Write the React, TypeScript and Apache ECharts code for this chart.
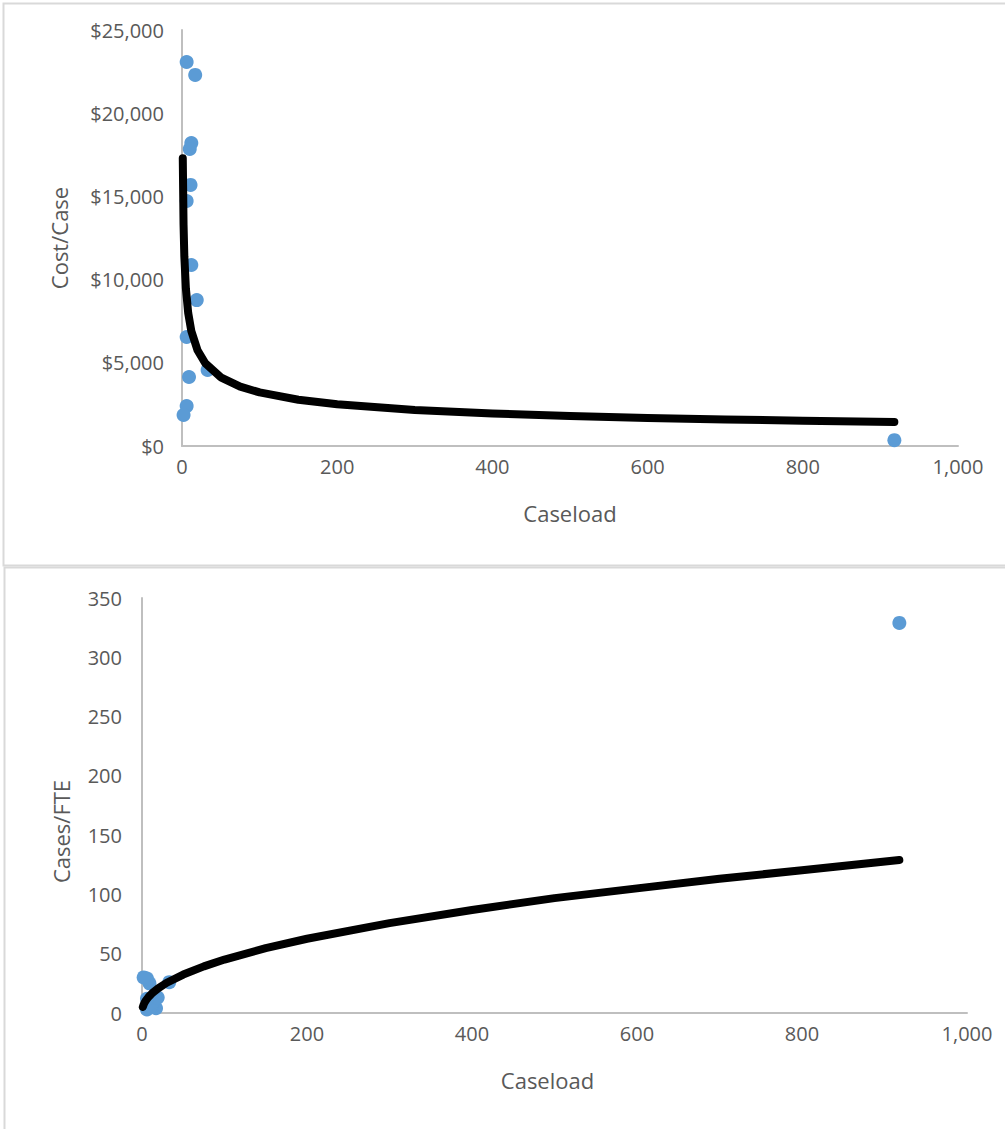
import React, { useEffect, useRef } from "react";
import * as echarts from "echarts";

// Scatter data (same caseloads in both charts)
const caseload = [6, 17, 12, 10, 11, 6, 12, 19, 6, 9, 33, 6, 2, 918];
const costPerCase = [23080, 22300, 18210, 17850, 15690, 14720, 10880, 8770, 6550, 4150, 4570, 2400, 1860, 350];
const casesPerFTE = [3, 4, 5, 5, 6, 6, 9, 13, 12, 25, 26, 29, 30, 329];

// Trend lines
const trendX = [1, 2, 3, 5, 8, 12, 20, 30, 50, 75, 100, 150, 200, 300, 400, 500, 600, 700, 800, 918];
const costTrend = [17300, 13300, 11400, 9470, 7990, 6910, 5750, 4970, 4130, 3570, 3220, 2780, 2510, 2170, 1960, 1800, 1690, 1595, 1520, 1445];
const fteTrend = [5.1, 7.1, 8.6, 10.9, 13.6, 16.5, 21.0, 25.5, 32.4, 39.3, 45.1, 54.7, 62.6, 75.8, 86.9, 96.9, 105.1, 113.2, 120.4, 129];

const xTitle = "Caseload";
const topYTitle = "Cost/Case";
const bottomYTitle = "Cases/FTE";

const FONT = "'Open Sans', sans-serif";
const GRAY_TEXT = "#595959";
const AXIS_GRAY = "#bfbfbf";
const DOT = "#5b9bd5";

const fmtComma = (v: number) => v.toLocaleString("en-US");

export default function App() {
  const ref = useRef<HTMLDivElement>(null);
  useEffect(() => {
    if (!ref.current) return;
    const chart = echarts.init(ref.current, undefined, { renderer: "svg" });
    const axisCommon = {
      axisLine: { show: true, lineStyle: { color: AXIS_GRAY, width: 2 } },
      axisTick: { show: false },
      splitLine: { show: false },
      axisLabel: { color: GRAY_TEXT, fontFamily: FONT, fontSize: 20 },
      nameTextStyle: { color: GRAY_TEXT, fontFamily: FONT, fontSize: 22 },
    };
    const trendStyle = { color: "#000000", width: 8, cap: "round", join: "round" };
    chart.setOption({
      animation: false,
      backgroundColor: "#ffffff",
      grid: [
        { left: 182, width: 776, top: 30, height: 416 },
        { left: 142, width: 825, top: 598, height: 415 },
      ],
      xAxis: [
        {
          ...axisCommon,
          gridIndex: 0,
          type: "value",
          min: 0,
          max: 1000,
          interval: 200,
          name: xTitle,
          nameLocation: "middle",
          nameGap: 56,
          axisLabel: { ...axisCommon.axisLabel, margin: 10, formatter: fmtComma },
        },
        {
          ...axisCommon,
          gridIndex: 1,
          type: "value",
          min: 0,
          max: 1000,
          interval: 200,
          name: xTitle,
          nameLocation: "middle",
          nameGap: 56,
          nameTextStyle: { ...axisCommon.nameTextStyle, padding: [0, 14, 0, 0] },
          axisLabel: { ...axisCommon.axisLabel, margin: 10, formatter: fmtComma },
        },
      ],
      yAxis: [
        {
          ...axisCommon,
          gridIndex: 0,
          type: "value",
          min: 0,
          max: 25000,
          interval: 5000,
          name: topYTitle,
          nameLocation: "middle",
          nameGap: 112,
          axisLabel: { ...axisCommon.axisLabel, margin: 18, formatter: (v: number) => "$" + fmtComma(v) },
        },
        {
          ...axisCommon,
          gridIndex: 1,
          type: "value",
          min: 0,
          max: 350,
          interval: 50,
          name: bottomYTitle,
          nameLocation: "middle",
          nameGap: 70,
          nameTextStyle: { ...axisCommon.nameTextStyle, padding: [0, 52, 0, 0] },
          axisLabel: { ...axisCommon.axisLabel, margin: 20 },
        },
      ],
      series: [
        {
          type: "scatter",
          xAxisIndex: 0,
          yAxisIndex: 0,
          data: caseload.map((x, i) => [x, costPerCase[i]]),
          symbolSize: 14,
          itemStyle: { color: DOT, opacity: 1 },
          z: 2,
        },
        {
          type: "line",
          xAxisIndex: 0,
          yAxisIndex: 0,
          data: trendX.map((x, i) => [x, costTrend[i]]),
          showSymbol: false,
          smooth: false,
          lineStyle: trendStyle,
          z: 3,
        },
        {
          type: "scatter",
          xAxisIndex: 1,
          yAxisIndex: 1,
          data: caseload.map((x, i) => [x, casesPerFTE[i]]),
          symbolSize: 14,
          itemStyle: { color: DOT, opacity: 1 },
          z: 2,
        },
        {
          type: "line",
          xAxisIndex: 1,
          yAxisIndex: 1,
          data: trendX.map((x, i) => [x, fteTrend[i]]),
          showSymbol: false,
          smooth: false,
          lineStyle: trendStyle,
          z: 3,
        },
      ],
      graphic: [
        {
          type: "rect",
          shape: { x: 3.5, y: 3.5, width: 1010, height: 562 },
          style: { fill: "none", stroke: "#d9d9d9", lineWidth: 2 },
          silent: true,
        },
        {
          type: "rect",
          shape: { x: 4.5, y: 567.5, width: 1010, height: 600 },
          style: { fill: "none", stroke: "#d9d9d9", lineWidth: 2 },
          silent: true,
        },
      ],
    });
    return () => chart.dispose();
  }, []);
  return (
    <div
      ref={ref}
      style={{ position: "absolute", left: 0, top: 0, width: 1005, height: 1129, background: "#fff" }}
    />
  );
}
